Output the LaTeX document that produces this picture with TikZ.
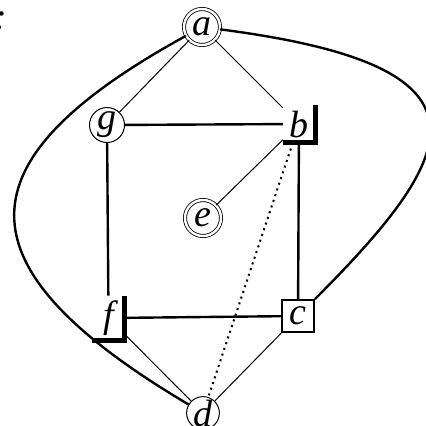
\documentclass[tikz,border=0pt]{standalone}
\usepackage{fontspec}
\setmainfont{Liberation Serif}
\usepackage{tikz}
\usetikzlibrary{calc,positioning}
\tikzset{
  labelfont/.style={font=\fontsize{19}{22}\selectfont\itshape},
  vnode/.style={circle,draw,line width=0.5pt,inner sep=0pt,minimum size=17.5pt,labelfont},
  dvnode/.style={circle,draw,double,double distance=1.2pt,line width=0.4pt,inner sep=0pt,minimum size=18pt,labelfont},
  cornernode/.style={rectangle,inner sep=0pt,minimum width=15.75pt,labelfont},
  boxnode/.style={rectangle,draw,line width=1pt,inner sep=0pt,minimum size=16pt,labelfont},
  thinedge/.style={draw,line width=0.5pt},
  thickedge/.style={draw,line width=1.2pt},
  dotedge/.style={draw,line width=1pt,dash pattern=on 1pt off 2pt},
  bracketline/.style={draw,line width=2.5pt},
}
\newcommand{\lcorner}[1]{%
  \draw[bracketline] (#1.north east) -- (#1.south east) -- (#1.south west);}
\begin{document}
\begin{tikzpicture}[x=0.5pt,y=-0.5pt]
  \useasboundingbox (0,0) rectangle (426,425);
  \node[labelfont,anchor=base west,inner sep=0pt] (colon) at (-6,29) {:};
  % vertices
  \node[dvnode] (a) at (202,27) {a};
  \node[vnode] (g) at (107,125) {g};
  \node[cornernode,minimum height=18.5pt] (b) at (299,124) {b};
  \node[dvnode] (e) at (203,218) {e};
  \node[cornernode,minimum height=22pt] (f) at (108.5,318) {f};
  \node[boxnode] (c) at (298,316) {c};
  \node[vnode,minimum size=16pt] (d) at (203,413) {d};
  \lcorner{b}\lcorner{f}
  % edges
  \path[thinedge] (a) -- (g) (a) -- (b) (b) -- (e)
                  (f) -- (d) (c) -- (d);
  \path[thickedge] (g) -- (b) (g) -- (f) (b) -- (c) (f) -- (c);
  \path[dotedge] (b) -- (d);
  \path[thickedge] (a) .. controls (-40,160) and (-47,265) .. (d);
  \path[thickedge] (a) .. controls (503,66) and (464,150) .. (c);
\end{tikzpicture}
\end{document}
